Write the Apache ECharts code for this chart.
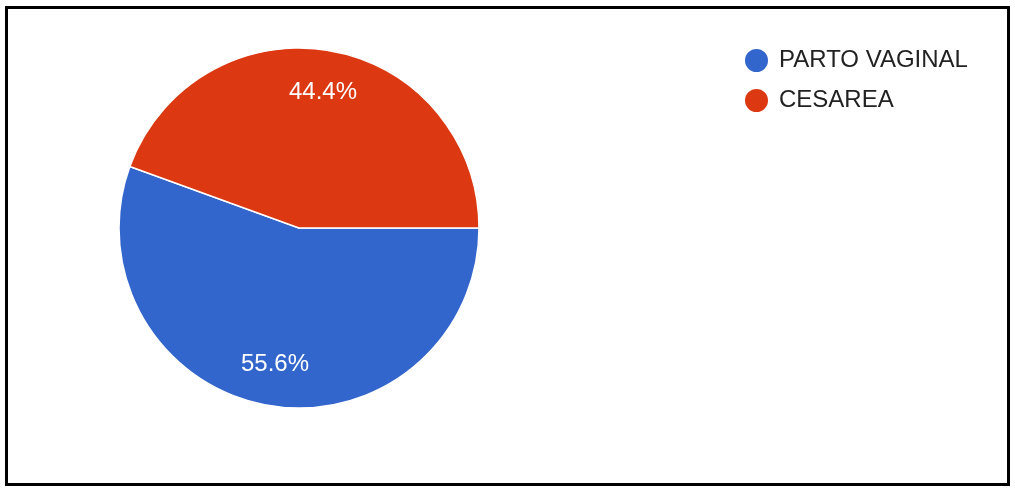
<!DOCTYPE html>
<html>
<head>
<meta charset="utf-8">
<script src="https://cdn.jsdelivr.net/npm/echarts@6/dist/echarts.min.js"></script>
<style>
  body { margin: 0; background: #fff; }
  #main { width: 1015px; height: 491px; }
  .frame {
    position: absolute; left: 5px; top: 6px; width: 1005px; height: 480px;
    box-sizing: border-box; border: 3px solid #000; pointer-events: none;
  }
</style>
</head>
<body>
<div id="main"></div>
<div class="frame"></div>
<script>
// datos del grafico
const categories = ['PARTO VAGINAL', 'CESAREA'];
const values = [5, 4];
const colors = ['#3366cc', '#dc3912'];

const pieData = categories.map((name, i) => ({ value: values[i], name: name }));

let myChart = echarts.init(document.getElementById('main'));
let option = {
  animation: false,
  color: colors,
  legend: {
    orient: 'vertical',
    left: 738,
    top: 42,
    icon: 'circle',
    itemWidth: 25,
    itemHeight: 25,
    itemGap: 13,
    data: categories,
    textStyle: {
      fontFamily: 'Liberation Sans, Arial, sans-serif',
      fontSize: 24,
      lineHeight: 25,
      color: '#222',
      padding: [0, 0, 0, 5]
    }
  },
  series: [
    {
      type: 'pie',
      center: [299, 228],
      radius: 180,
      startAngle: 0,
      clockwise: true,
      data: pieData,
      label: { show: false },
      labelLine: { show: false },
      itemStyle: { borderColor: '#fff', borderWidth: 1.5 },
      emphasis: { disabled: true }
    },
    {
      // capa transparente solo para las etiquetas de porcentaje
      type: 'pie',
      center: [299, 228],
      radius: [90, 180],
      startAngle: 0,
      clockwise: true,
      silent: true,
      data: pieData,
      itemStyle: { color: 'rgba(0,0,0,0)' },
      label: {
        show: true,
        position: 'inside',
        formatter: p => p.percent.toFixed(1) + '%',
        color: '#fff',
        fontFamily: 'Liberation Sans, Arial, sans-serif',
        fontSize: 24
      },
      labelLine: { show: false },
      emphasis: { disabled: true }
    }
  ]
};
myChart.setOption(option);
</script>
</body>
</html>
